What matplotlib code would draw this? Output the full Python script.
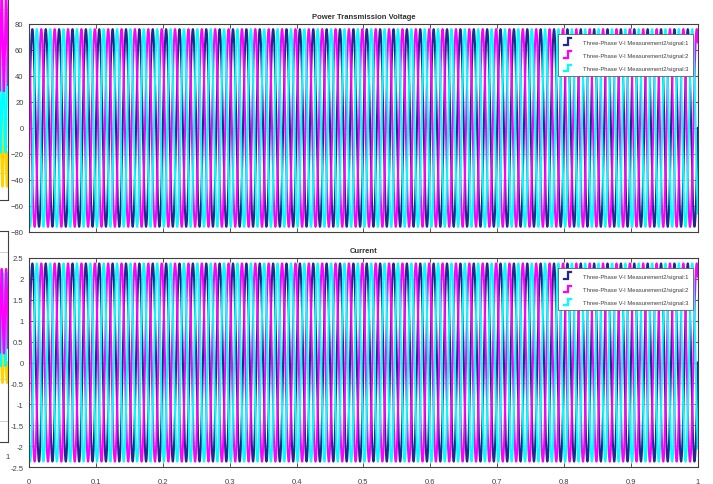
import numpy as np
import matplotlib
matplotlib.use("Agg")
import matplotlib.pyplot as plt
from matplotlib.lines import Line2D
from matplotlib.legend_handler import HandlerBase

plt.rcParams['font.family'] = ['Liberation Sans Narrow', 'Liberation Sans', 'DejaVu Sans']

# scope signals: three-phase measurement, 50 Hz over 1 s
freq_hz = 50
t_end = 1.0
phase_deg = [0, 120, -120]
voltage_peak = 76.0
current_peak = 2.37
signal_names = ["Three-Phase V-I Measurement2/signal:1",
                "Three-Phase V-I Measurement2/signal:2",
                "Three-Phase V-I Measurement2/signal:3"]
signal_colors = ["#1f2a8c", "#ff00ff", "#00ffff"]

v_ticks = [-80, -60, -40, -20, 0, 20, 40, 60, 80]
i_ticks = [-2.5, -2, -1.5, -1, -0.5, 0, 0.5, 1, 1.5, 2, 2.5]
i_ticklabels = ["-2.5", "-2", "-1.5", "-1", "-0.5", "0", "0.5", "1", "1.5", "2", "2.5"]
t_ticks = [0, 0.1, 0.2, 0.3, 0.4, 0.5, 0.6, 0.7, 0.8, 0.9, 1]
t_ticklabels = ["0", "0.1", "0.2", "0.3", "0.4", "0.5", "0.6", "0.7", "0.8", "0.9", "1"]

# neighbouring scope window (only its right edge is on screen)
side_colors = ["#ffd400", "#00ffff", "#ff00ff"]
side_center_top = [-45, -10, 35]
side_swing_top = [25, 35, 35]
side_center_bot = [-0.6, 0.4, 0.6]
side_swing_bot = [0.5, 1.1, 1.0]

t = np.linspace(0, t_end, 20001)


def wave(peak, ph, offset=0.0):
    return offset + peak * np.sin(2 * np.pi * freq_hz * t + np.deg2rad(ph))


class StepHandler(HandlerBase):
    # little step glyph used by the scope legend
    def create_artists(self, legend, orig_handle, xdescent, ydescent,
                       width, height, fontsize, trans):
        x0 = -xdescent + width * 0.2
        x1 = -xdescent + width * 0.8
        xm = (x0 + x1) / 2
        y0 = -ydescent
        y1 = -ydescent + height
        ln = Line2D([x0, xm, xm, x1], [y0, y0, y1, y1],
                    color=orig_handle.get_color(), linewidth=1.6,
                    solid_joinstyle='miter', transform=trans)
        return [ln]


def style_axes(ax, yticks, ylim, ylabels=None, show_x=False):
    ax.set_xlim(0, t_end)
    ax.set_ylim(*ylim)
    ax.set_yticks(yticks)
    if ylabels is not None:
        ax.set_yticklabels(ylabels)
    ax.set_xticks(t_ticks)
    ax.set_xticklabels(t_ticklabels if show_x else [])
    ax.tick_params(direction='in', length=3, width=0.6, labelsize=5.5,
                   colors='#404040', top=True, right=True, pad=4)
    ax.tick_params(axis='x', pad=8)
    ax.grid(True, color='#c8c8c8', linewidth=0.6)
    ax.set_axisbelow(True)
    for sp in ax.spines.values():
        sp.set_color('#404040')
        sp.set_linewidth(0.8)


def add_legend(ax):
    handles = [Line2D([], [], color=c) for c in signal_colors]
    leg = ax.legend(handles, signal_names, loc='upper right', fontsize=4.2,
                    frameon=True, fancybox=False, framealpha=1,
                    edgecolor='#606060', borderpad=0.75, labelspacing=1.1,
                    handlelength=2.0, handleheight=1.4, handletextpad=1.6,
                    borderaxespad=0, handler_map={Line2D: StepHandler()},
                    bbox_to_anchor=(0.9925, 0.952))
    leg.get_frame().set_linewidth(0.6)
    for txt in leg.get_texts():
        txt.set_color('#404040')


fig = plt.figure(figsize=(7.13, 4.85), dpi=100)

# side window strips
ax_s1 = fig.add_axes([-0.3, 0.585, 0.3112, 0.45])
ax_s2 = fig.add_axes([-0.3, 0.0866, 0.3112, 0.435])
for ax, cen, sw, yl in [(ax_s1, side_center_top, side_swing_top, (-80, 80)),
                        (ax_s2, side_center_bot, side_swing_bot, (-2.5, 2.5))]:
    for c, m, s, ph in zip(side_colors, cen, sw, [0, 120, -120]):
        ax.plot(t, wave(s, ph, m), color=c, linewidth=1.6)
    ax.set_xlim(0, 1)
    ax.set_ylim(*yl)
    ax.set_yticklabels([])
    ax.tick_params(direction='in', length=3, width=0.6, labelsize=5.5, colors='#404040')
    ax.grid(True, color='#c8c8c8', linewidth=0.6)
    for sp in ax.spines.values():
        sp.set_color('#404040')
        sp.set_linewidth(0.8)
ax_s1.set_xticklabels([])
ax_s2.set_xticks([1])
ax_s2.set_xticklabels(["1"])
ax_s2.tick_params(axis='x', pad=8)

ax_v = fig.add_axes([0.0407, 0.5196, 0.938, 0.429])
ax_i = fig.add_axes([0.0407, 0.035, 0.938, 0.431])

for c, ph in zip(signal_colors, phase_deg):
    ax_v.plot(t, wave(voltage_peak, ph), color=c, linewidth=1.5)
    ax_i.plot(t, wave(current_peak, ph), color=c, linewidth=1.5)

style_axes(ax_v, v_ticks, (-80, 80))
style_axes(ax_i, i_ticks, (-2.5, 2.5), ylabels=i_ticklabels, show_x=True)

ax_v.set_title("Power Transmission Voltage", fontsize=5.5, fontweight='bold',
               color='#303030', pad=4)
ax_i.set_title("Current", fontsize=5.5, fontweight='bold', color='#303030', pad=4)

add_legend(ax_v)
add_legend(ax_i)

fig.savefig("out.png", dpi=100)
